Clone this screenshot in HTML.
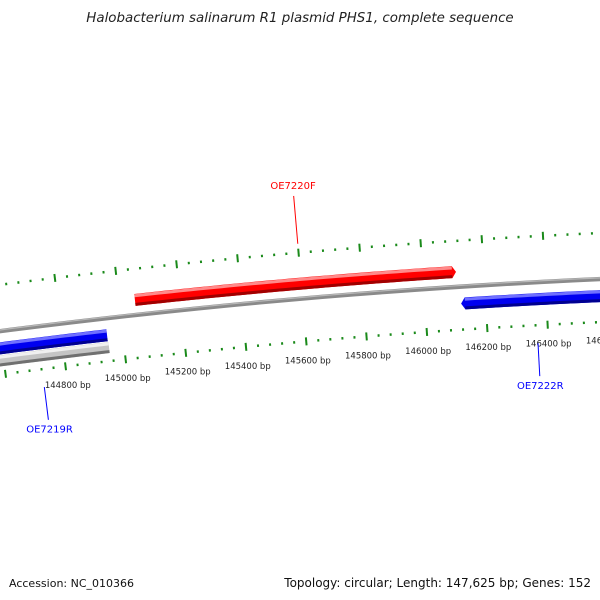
<!DOCTYPE html>
<html><head><meta charset="utf-8"><style>
body{margin:0;background:#fff;}
svg{display:block;font-family:"DejaVu Sans","Liberation Sans",sans-serif;}
</style></head><body>
<svg id="map" width="600" height="600" viewBox="0 0 600 600" xmlns="http://www.w3.org/2000/svg">
<text x="300" y="22" text-anchor="middle" font-size="13.4" font-style="italic" fill="#222">Halobacterium salinarum R1 plasmid PHS1, complete sequence</text>
<g id="layer"></g>
<text x="9" y="587" font-size="11" fill="#111">Accession: NC_010366</text>
<text x="591" y="587" text-anchor="end" font-size="12" fill="#111">Topology: circular; Length: 147,625 bp; Genes: 152</text>
</svg>
<script>
const seqLength = 147625;
const tickLabels = [144800,145000,145200,145400,145600,145800,146000,146200,146400,146600];
const geneNames = ["OE7219R","OE7220F","OE7222R","gray-feature"];
const geneStarts = [144000,145052,146119,144000];
const geneEnds = [144948,146109,147200,144950];
const geneStrands = [-1,1,-1,0];
const geneLabelBp = [144722,145600,146365,null];

const cx=918, cy=7422, R=7150;
const NS="http://www.w3.org/2000/svg";
const layer=document.getElementById('layer');
function pt(bp,r){const t=bp/seqLength*2*Math.PI;return [cx+r*Math.sin(t), cy-r*Math.cos(t)];}
function mk(tag,attrs){const e=document.createElementNS(NS,tag);for(const k in attrs)e.setAttribute(k,attrs[k]);layer.appendChild(e);return e;}
function arrowBp(r){return Math.round(4/(2*Math.PI*r/seqLength));}
function arcPath(a,b,r1,r2,arrow){
  const steps=40;let d="";const rm=(r1+r2)/2;const ab=arrowBp(rm);
  let a2=a,b2=b; if(arrow===1)b2=b-ab; if(arrow===-1)a2=a+ab;
  for(let i=0;i<=steps;i++){const p=pt(a2+(b2-a2)*i/steps,r2);d+=(i?"L":"M")+p[0].toFixed(2)+","+p[1].toFixed(2);}
  if(arrow===1){const p=pt(b,rm);d+="L"+p[0].toFixed(2)+","+p[1].toFixed(2);}
  for(let i=steps;i>=0;i--){const p=pt(a2+(b2-a2)*i/steps,r1);d+="L"+p[0].toFixed(2)+","+p[1].toFixed(2);}
  if(arrow===-1){const p=pt(a,rm);d+="L"+p[0].toFixed(2)+","+p[1].toFixed(2);}
  return d+"Z";
}
function lineArc(a,b,r){const steps=40;let d="";for(let i=0;i<=steps;i++){const p=pt(a+(b-a)*i/steps,r);d+=(i?"L":"M")+p[0].toFixed(2)+","+p[1].toFixed(2);}return d;}
// backbone
const bb=mk('path',{d:arcPath(143500,147625,R-2.2,R+2.2,0),fill:'#8a8a8a'});


const bbh=mk('path',{d:lineArc(143500,147625,R+1.2),fill:'none',stroke:'#b8b8b8','stroke-width':1.2});


// ticks
for(let bp=143600;bp<=147600;bp+=40){
  const major=bp%200===0;
  const rings=[R+46,R-43];
  rings.forEach((rr,ri)=>{
    const len=major?8:2.5;
    const p1=pt(bp,rr-len/2),p2=pt(bp,rr+len/2);
    const l=mk('line',{x1:p1[0],y1:p1[1],x2:p2[0],y2:p2[1],stroke:'#1a8a1a','stroke-width':2});
    
    
  });
}
tickLabels.forEach(v=>{
  const p=pt(v,R-62);
  const t=mk('text',{x:p[0],y:p[1]+3,'text-anchor':'middle','font-size':8.5,fill:'#222'});
  t.textContent=v+" bp";
  
  
});
// genes
const palette={1:['#ff0000','#ff8a8a','#a00000'],'-1':['#0000f0','#7070ff','#000090'],0:['#c4c4c4','#f0f0f0','#707070']};
geneNames.forEach((n,i)=>{
  let r1,r2,arrow;
  if(geneStrands[i]===1){r1=R+9;r2=R+21;arrow=1;}
  else if(geneStrands[i]===-1){r1=R-23;r2=R-11;arrow=-1;}
  else{r1=R-35;r2=R-24;arrow=0;}
  const col=palette[geneStrands[i]];
  const g=mk('path',{d:arcPath(geneStarts[i],geneEnds[i],r1,r2,arrow),fill:col[0]});
  
  
  const ab=arrowBp((r1+r2)/2);
  const a2=arrow===-1?geneStarts[i]+ab:geneStarts[i];
  const b2=arrow===1?geneEnds[i]-ab:geneEnds[i];
  const hi=mk('path',{d:lineArc(a2,b2,r2-1.8),fill:'none',stroke:col[1],'stroke-width':3});
  
  
  const sh=mk('path',{d:lineArc(a2,b2,r1+1.5),fill:'none',stroke:col[2],'stroke-width':3});
  
  
  if(geneLabelBp[i]!==null){
    const c=geneStrands[i]===1?'#ff0000':'#0000ff';
    let pa,pb,lp;
    if(geneStrands[i]===1){pa=pt(geneLabelBp[i],R+55);pb=pt(geneLabelBp[i],R+103);lp=pt(geneLabelBp[i],R+110);}
    else{pa=pt(geneLabelBp[i],R-61);pb=pt(geneLabelBp[i],R-94);lp=pt(geneLabelBp[i],R-103);}
    const l=mk('line',{x1:pa[0],y1:pa[1],x2:pb[0],y2:pb[1],stroke:c,'stroke-width':1});
    
    
    const t=mk('text',{x:lp[0],y:lp[1]+(geneStrands[i]===1?0:4),'text-anchor':'middle','font-size':10,fill:c});
    t.textContent=n;
    
    
  }
});
</script>
</body></html>
